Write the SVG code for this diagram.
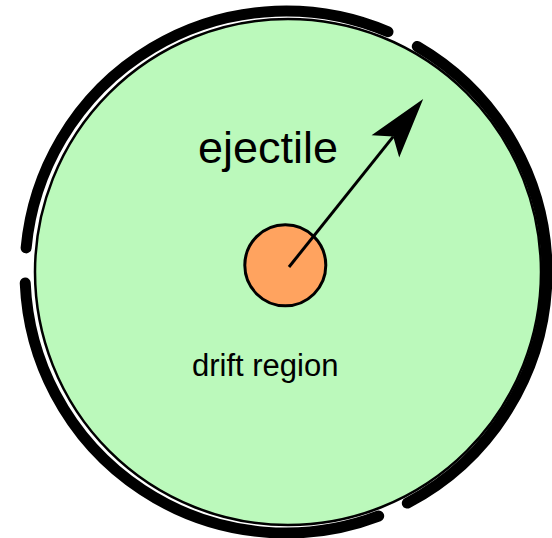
<svg xmlns="http://www.w3.org/2000/svg" width="552" height="538" viewBox="0 0 552 538">
  <style>
    .region { fill: #bbf9bb; stroke: #000; stroke-width: 2.5; }
    .shield { fill: none; stroke: #000; stroke-width: 11; stroke-linecap: round; }
    .target { fill: #ffa35f; stroke: #000; stroke-width: 3; }
    .conn { stroke: #000; stroke-width: 3; fill: none; }
    .lbl { font-family: "Liberation Sans", Arial, sans-serif; fill: #000; }
  </style>
  <defs>
    <marker id="head" markerUnits="userSpaceOnUse" viewBox="-62 -19 64 38" markerWidth="64" markerHeight="38" refX="-48" refY="0" orient="auto">
      <path d="M0,0 L-60.5,-17.7 L-48,0 L-60.5,17.7 Z" fill="#000"/>
    </marker>
  </defs>
  <g id="drift-region">
    <circle class="region" cx="288" cy="272" r="253"/>
    <text class="lbl" x="192" y="376" font-size="31">drift region</text>
  </g>
  <g id="shield">
    <path class="shield" d="M25.23,282.93 A261,261 0 0 0 378.68,516"/>
    <path class="shield" d="M407.32,503.09 A261,261 0 0 0 417.29,46.43"/>
    <path class="shield" d="M387.98,31.75 A261,261 0 0 0 26.12,247.89"/>
  </g>
  <g id="target">
    <circle class="target" cx="285.3" cy="265.3" r="40.5"/>
  </g>
  <g id="ejectile">
    <text class="lbl" x="198" y="163" font-size="45">ejectile</text>
  </g>
  <g id="connectors">
    <line class="conn" x1="289" y1="267" x2="393.2" y2="136.6" marker-end="url(#head)"/>
  </g>
</svg>
